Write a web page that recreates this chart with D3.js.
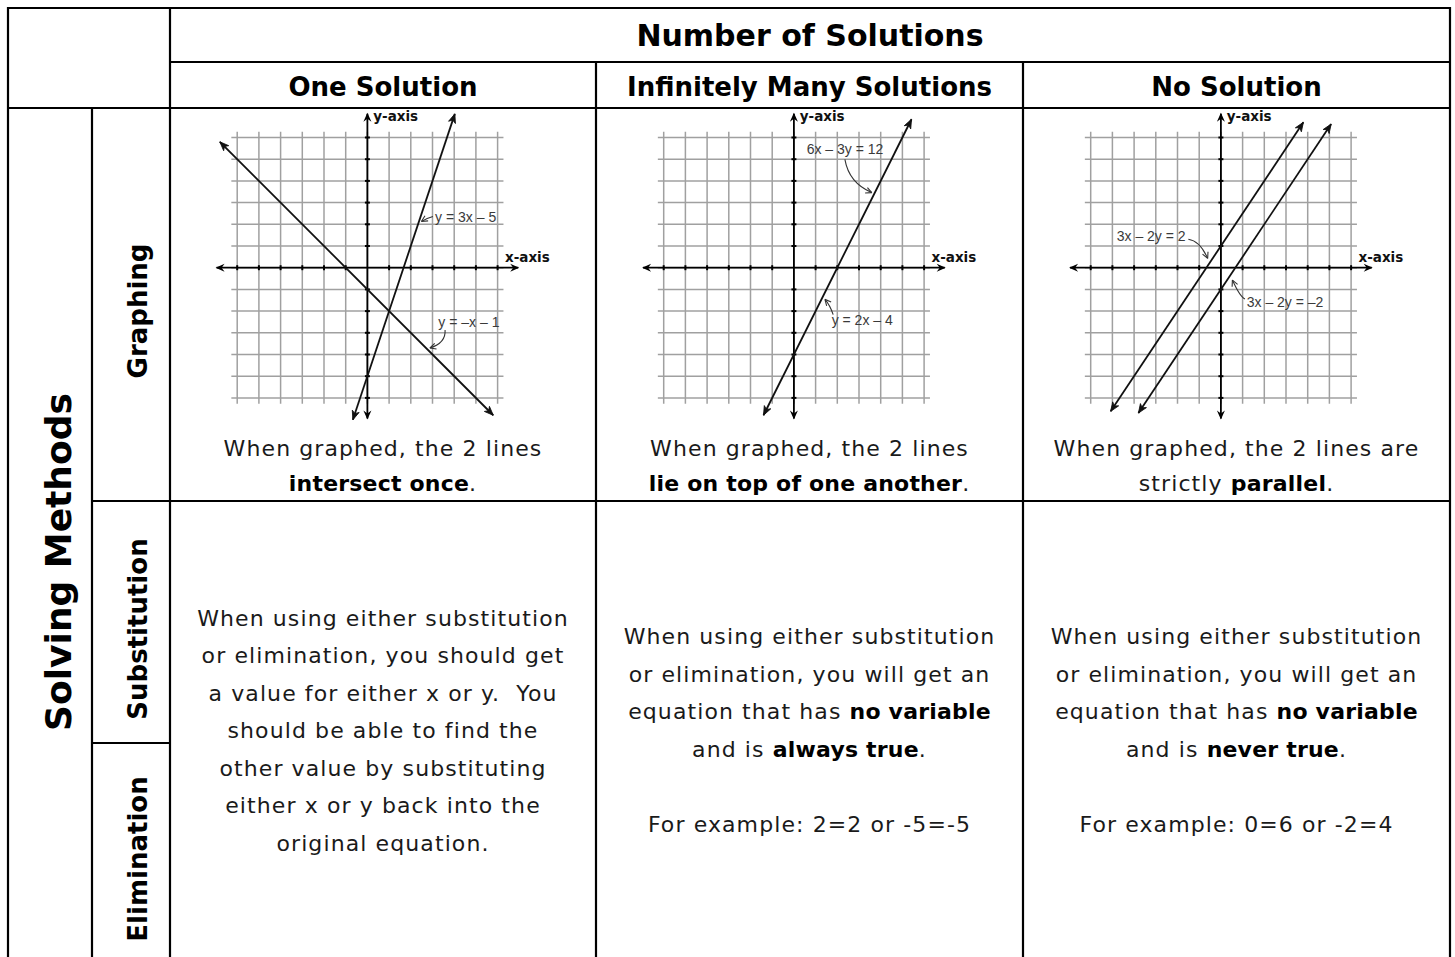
<!DOCTYPE html>
<html>
<head>
<meta charset="utf-8">
<script src="https://cdn.jsdelivr.net/npm/d3@7/dist/d3.min.js"></script>
<style>
  html, body { margin: 0; padding: 0; background: #fff; }
  svg { display: block; }
  text { white-space: pre; }
</style>
</head>
<body>
<div id="chart"></div>
<script>
// ----------------------------------
// data
// ----------------------------------
const topTitle = 'Number of Solutions';
const sideTitle = 'Solving Methods';
const columns = ['One Solution', 'Infinitely Many Solutions', 'No Solution'];
const methods = ['Graphing', 'Substitution', 'Elimination'];

// integer grid on every small graph
const gridValues = d3.range(-6, 7);

// lines on each graph: slope, intercept and the x range that is drawn
const graphLines = [
	[{m: -1, b: -1, x0: -6.8, x1: 5.8}, {m: 3, b: -5, x0: -0.67, x1: 4.03}],
	[{m: 2, b: -4, x0: -1.4, x1: 5.42}],
	[{m: 1.5, b: 1, x0: -5.08, x1: 3.8}, {m: 1.5, b: -1, x0: -3.8, x1: 5.08}]
];

// equation labels, in graph units (text start, pointer from / bend / to)
const graphLabels = [
	[
		{text: 'y = 3x – 5', at: [3.12, 2.12], from: [3.02, 2.36], bend: [2.75, 2.29], to: [2.49, 2.13]},
		{text: 'y = –x – 1', at: [3.27, -2.73], from: [3.58, -2.87], bend: [3.62, -3.47], to: [2.88, -3.70]}
	],
	[
		{text: '6x – 3y = 12', at: [0.59, 5.22], from: [2.35, 4.99], bend: [2.54, 3.90], to: [3.59, 3.46]},
		{text: 'y = 2x – 4', at: [1.74, -2.65], from: [1.81, -2.16], bend: [1.66, -1.72], to: [1.43, -1.46]}
	],
	[
		{text: '3x – 2y = 2', at: [-4.80, 1.22], from: [-1.50, 1.31], bend: [-0.96, 1.23], to: [-0.61, 0.43]},
		{text: '3x – 2y = –2', at: [1.19, -1.81], from: [1.11, -1.44], bend: [0.88, -1.35], to: [0.53, -0.57]}
	]
];

// text under each graph ([text, bold] pieces per line)
const graphCaptions = [
	[[['When graphed, the 2 lines', false]], [['intersect once', true], ['.', false]]],
	[[['When graphed, the 2 lines', false]], [['lie on top of one another', true], ['.', false]]],
	[[['When graphed, the 2 lines are', false]], [['strictly ', false], ['parallel', true], ['.', false]]]
];

// text for substitution / elimination
const algebraText = [
	[
		[['When using either substitution', false]],
		[['or elimination, you should get', false]],
		[['a value for either x or y.  You', false]],
		[['should be able to find the', false]],
		[['other value by substituting', false]],
		[['either x or y back into the', false]],
		[['original equation.', false]]
	],
	[
		[['When using either substitution', false]],
		[['or elimination, you will get an', false]],
		[['equation that has ', false], ['no variable', true]],
		[['and is ', false], ['always true', true], ['.', false]],
		[],
		[['For example: 2=2 or -5=-5', false]]
	],
	[
		[['When using either substitution', false]],
		[['or elimination, you will get an', false]],
		[['equation that has ', false], ['no variable', true]],
		[['and is ', false], ['never true', true], ['.', false]],
		[],
		[['For example: 0=6 or -2=4', false]]
	]
];

// ----------------------------------
// layout
// ----------------------------------
const width = 1455, height = 957;
const colEdges = [170, 596, 1023, 1450];
const tableLeft = 8, sideSplit = 92, tableTop = 8, headSplit = 62, headBottom = 108,
	graphBottom = 501, methodSplit = 743;
const font = '"DejaVu Sans", Verdana, sans-serif';
const unit = 21.7, originY = 267.7;

const svg = d3.select('#chart')
	.append('svg')
	.attr('width', width)
	.attr('height', height);

const defs = svg.append('defs');

defs.append('marker')
	.attr('id', 'line-arrow')
	.attr('viewBox', '-10 -5 12 10')
	.attr('refX', 0)
	.attr('refY', 0)
	.attr('markerWidth', 12)
	.attr('markerHeight', 10)
	.attr('markerUnits', 'userSpaceOnUse')
	.attr('orient', 'auto-start-reverse')
	.append('path')
	.attr('d', 'M0,0 L-9,-3.6 L-6.5,0 L-9,3.6 Z')
	.style('fill', '#111')
	.style('stroke', '#111')
	.style('stroke-width', 0.8);

defs.append('marker')
	.attr('id', 'axis-arrow')
	.attr('viewBox', '-10 -5 12 10')
	.attr('refX', 0)
	.attr('refY', 0)
	.attr('markerWidth', 12)
	.attr('markerHeight', 10)
	.attr('markerUnits', 'userSpaceOnUse')
	.attr('orient', 'auto-start-reverse')
	.append('path')
	.attr('d', 'M1,0 L-8,-4 L-5,0 L-8,4 Z')
	.style('fill', '#000');

defs.append('marker')
	.attr('id', 'pointer-arrow')
	.attr('viewBox', '-8 -4 10 8')
	.attr('refX', 0)
	.attr('refY', 0)
	.attr('markerWidth', 10)
	.attr('markerHeight', 8)
	.attr('markerUnits', 'userSpaceOnUse')
	.attr('orient', 'auto')
	.append('path')
	.attr('d', 'M0,0 L-6,-3 M0,0 L-6,3')
	.style('fill', 'none')
	.style('stroke', '#333')
	.style('stroke-width', 1.1);

// ----------------------------------
// small graphs
// ----------------------------------
function drawGraph(index){
	const cellMid = (colEdges[index] + colEdges[index + 1]) / 2;
	const originX = cellMid - 15.6;

	const x = d3.scaleLinear()
		.domain([-6, 6])
		.range([originX - 6 * unit, originX + 6 * unit]);
	const y = d3.scaleLinear()
		.domain([-6, 6])
		.range([originY + 6 * unit, originY - 6 * unit]);

	const g = svg.append('g').attr('class', `graph graph--${index}`);

	// grid
	const grid = g.append('g').attr('class', 'grid');
	grid.selectAll('.grid__line--x')
		.data(gridValues)
		.join('line')
		.attr('class', 'grid__line grid__line--x')
		.attr('x1', d => x(d))
		.attr('x2', d => x(d))
		.attr('y1', y(6.27))
		.attr('y2', y(-6.27));
	grid.selectAll('.grid__line--y')
		.data(gridValues)
		.join('line')
		.attr('class', 'grid__line grid__line--y')
		.attr('x1', x(-6.27))
		.attr('x2', x(6.27))
		.attr('y1', d => y(d))
		.attr('y2', d => y(d));
	grid.selectAll('line')
		.style('stroke', '#a0a0a0')
		.style('stroke-width', 1.5);

	// axes
	g.append('line')
		.attr('x1', x(-6.95)).attr('x2', x(6.95))
		.attr('y1', y(0)).attr('y2', y(0))
		.attr('marker-start', 'url(#axis-arrow)')
		.attr('marker-end', 'url(#axis-arrow)')
		.style('stroke', '#000')
		.style('stroke-width', 1.8);
	g.append('line')
		.attr('x1', x(0)).attr('x2', x(0))
		.attr('y1', y(-6.95)).attr('y2', y(7.1))
		.attr('marker-start', 'url(#axis-arrow)')
		.attr('marker-end', 'url(#axis-arrow)')
		.style('stroke', '#000')
		.style('stroke-width', 1.8);

	// ticks on the axes
	const tickValues = gridValues.filter(d => d !== 0);
	g.selectAll('.tick--x')
		.data(tickValues)
		.join('line')
		.attr('class', 'tick--x')
		.attr('x1', d => x(d)).attr('x2', d => x(d))
		.attr('y1', y(0) - 2.5).attr('y2', y(0) + 2.5)
		.style('stroke', '#000')
		.style('stroke-width', 2);
	g.selectAll('.tick--y')
		.data(tickValues)
		.join('line')
		.attr('class', 'tick--y')
		.attr('y1', d => y(d)).attr('y2', d => y(d))
		.attr('x1', x(0) - 2.5).attr('x2', x(0) + 2.5)
		.style('stroke', '#000')
		.style('stroke-width', 2);

	g.append('text')
		.text('y-axis')
		.attr('x', x(0.27))
		.attr('y', y(6.74))
		.style('font-family', font)
		.style('font-size', '13.5px')
		.style('font-weight', 'bold')
		.style('fill', '#111');
	g.append('text')
		.text('x-axis')
		.attr('x', x(6.34))
		.attr('y', y(0.28))
		.style('font-family', font)
		.style('font-size', '13.5px')
		.style('font-weight', 'bold')
		.style('fill', '#111');

	// the equation lines
	g.selectAll('.eq-line')
		.data(graphLines[index])
		.join('line')
		.attr('class', 'eq-line')
		.attr('x1', d => x(d.x0))
		.attr('y1', d => y(d.m * d.x0 + d.b))
		.attr('x2', d => x(d.x1))
		.attr('y2', d => y(d.m * d.x1 + d.b))
		.attr('marker-start', 'url(#line-arrow)')
		.attr('marker-end', 'url(#line-arrow)')
		.style('stroke', '#111')
		.style('stroke-width', 1.8);

	// equation labels
	g.selectAll('.eq-label')
		.data(graphLabels[index])
		.join('text')
		.attr('class', 'eq-label')
		.attr('x', d => x(d.at[0]))
		.attr('y', d => y(d.at[1]))
		.text(d => d.text)
		.style('font-family', '"Liberation Sans", Arial, sans-serif')
		.style('font-size', '14px')
		.style('fill', '#3a3a3a');

	g.selectAll('.eq-pointer')
		.data(graphLabels[index])
		.join('path')
		.attr('class', 'eq-pointer')
		.attr('d', d => `M${x(d.from[0])},${y(d.from[1])} Q${x(d.bend[0])},${y(d.bend[1])} ${x(d.to[0])},${y(d.to[1])}`)
		.attr('marker-end', 'url(#pointer-arrow)')
		.style('fill', 'none')
		.style('stroke', '#333')
		.style('stroke-width', 1.1);
}

// ----------------------------------
// text helpers
// ----------------------------------
function writeLines(lines, cx, firstBaseline, lineHeight){
	const t = svg.append('text')
		.attr('text-anchor', 'middle')
		.style('font-family', font)
		.style('font-size', '22px')
		.style('letter-spacing', '1.1px')
		.style('fill', '#1a1a1a');
	lines.forEach((line, i) => {
		line.forEach((piece, j) => {
			const span = t.append('tspan')
				.text(piece[0])
				.style('font-weight', piece[1] ? 'bold' : 'normal')
				.style('letter-spacing', piece[1] ? '0.2px' : '1.1px')
				.style('fill', piece[1] ? '#000' : '#1a1a1a');
			if (j === 0){
				span.attr('x', cx).attr('y', firstBaseline + i * lineHeight);
			}
		});
	});
}

function sideLabel(text, x, yMid, size){
	svg.append('text')
		.text(text)
		.attr('text-anchor', 'middle')
		.attr('transform', `translate(${x},${yMid}) rotate(-90)`)
		.style('font-family', font)
		.style('font-size', size + 'px')
		.style('font-weight', 'bold')
		.style('fill', '#000');
}

// ----------------------------------
// draw
// ----------------------------------
svg.append('rect')
	.attr('width', width)
	.attr('height', height)
	.style('fill', '#fff');

columns.forEach((c, i) => drawGraph(i));

// headers
svg.append('text')
	.text(topTitle)
	.attr('x', (colEdges[0] + colEdges[3]) / 2)
	.attr('y', 45.5)
	.attr('text-anchor', 'middle')
	.style('font-family', font)
	.style('font-size', '30px')
	.style('font-weight', 'bold');

svg.selectAll('.col-title')
	.data(columns)
	.join('text')
	.attr('class', 'col-title')
	.text(d => d)
	.attr('x', (d, i) => (colEdges[i] + colEdges[i + 1]) / 2)
	.attr('y', 95.5)
	.attr('text-anchor', 'middle')
	.style('font-family', font)
	.style('font-size', '26px')
	.style('font-weight', 'bold');

sideLabel(sideTitle, 71, 562, 36);
sideLabel(methods[0], 147, 311, 26);
sideLabel(methods[1], 147, 629, 26);
sideLabel(methods[2], 147, 859, 26);

// captions and algebra text
graphCaptions.forEach((lines, i) => {
	writeLines(lines, (colEdges[i] + colEdges[i + 1]) / 2, 456, 35);
});
algebraText.forEach((lines, i) => {
	const first = i === 0 ? 625.5 : 644;
	writeLines(lines, (colEdges[i] + colEdges[i + 1]) / 2, first, 37.5);
});

// table rules
const rules = [
	[tableLeft, tableTop, colEdges[3], tableTop],
	[colEdges[0], headSplit, colEdges[3], headSplit],
	[tableLeft, headBottom, colEdges[3], headBottom],
	[sideSplit, graphBottom, colEdges[3], graphBottom],
	[sideSplit, methodSplit, colEdges[0], methodSplit],
	[tableLeft, tableTop, tableLeft, height + 5],
	[sideSplit, headBottom, sideSplit, height + 5],
	[colEdges[0], tableTop, colEdges[0], height + 5],
	[colEdges[1], headSplit, colEdges[1], height + 5],
	[colEdges[2], headSplit, colEdges[2], height + 5],
	[colEdges[3], tableTop, colEdges[3], height + 5]
];
svg.append('g')
	.attr('class', 'rules')
	.selectAll('line')
	.data(rules)
	.join('line')
	.attr('x1', d => d[0] - (d[1] === d[3] ? 1 : 0))
	.attr('y1', d => d[1] - (d[0] === d[2] ? 1 : 0))
	.attr('x2', d => d[2] + (d[1] === d[3] ? 1 : 0))
	.attr('y2', d => d[3])
	.style('stroke', '#000')
	.style('stroke-width', 2.2);
</script>
</body>
</html>
